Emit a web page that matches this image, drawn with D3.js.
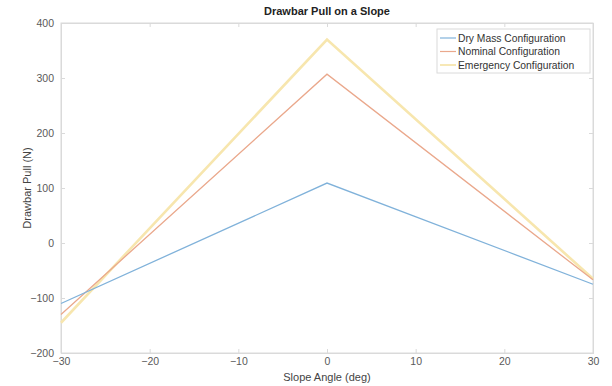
<!DOCTYPE html>
<html><head><meta charset="utf-8">
<script src="https://cdn.jsdelivr.net/npm/d3@7"></script>
<style>body{margin:0;background:#fff;}svg{display:block;font-family:"Liberation Sans",Arial,sans-serif;}</style>
</head><body>
<script>
const angles = [-30, 0, 30];
const seriesNames = ["Dry Mass Configuration", "Nominal Configuration", "Emergency Configuration"];
const dryMass = [-110, 109, -75];
const nominal = [-130, 307, -67];
const emergency = [-145, 370, -65];
const xTicks = [-30, -20, -10, 0, 10, 20, 30];
const yTicks = [-200, -100, 0, 100, 200, 300, 400];
const colors = ["#80b2da", "#eaa88c", "#f7e6ae"];
const widths = [1.3, 1.3, 2.6];

const W = 612, H = 386;
const m = {l: 61, r: 19, t: 23, b: 33};
const svg = d3.select("body").append("svg").attr("width", W).attr("height", H);
const x = d3.scaleLinear().domain([-30, 30]).range([m.l, W - m.r]);
const y = d3.scaleLinear().domain([-200, 400]).range([H - m.b, m.t]);

svg.append("rect").attr("x", x(-30)).attr("y", y(400)).attr("width", x(30) - x(-30)).attr("height", y(-200) - y(400))
  .attr("fill", "#fff").attr("stroke", "#dadada").attr("stroke-width", 1);

const xa = svg.append("g").attr("transform", `translate(0,${y(-200)})`)
  .call(d3.axisBottom(x).tickValues(xTicks).tickSize(-4).tickPadding(5).tickFormat(d3.format("d")));
const xa2 = svg.append("g").attr("transform", `translate(0,${y(400)})`)
  .call(d3.axisTop(x).tickValues(xTicks).tickSize(-4).tickFormat(""));
const ya = svg.append("g").attr("transform", `translate(${x(-30)},0)`)
  .call(d3.axisLeft(y).tickValues(yTicks).tickSize(-4).tickPadding(7).tickFormat(d3.format("d")));
const ya2 = svg.append("g").attr("transform", `translate(${x(30)},0)`)
  .call(d3.axisRight(y).tickValues(yTicks).tickSize(-4).tickFormat(""));
[xa, xa2, ya, ya2].forEach(g => {
  g.select(".domain").attr("stroke", "#dadada");
  g.selectAll(".tick line").attr("stroke", "#dadada");
  g.selectAll("text").attr("fill", "#5a5a5a").attr("font-size", 10.5).attr("font-family", "Liberation Sans, Arial, sans-serif");
});

const data = [dryMass, nominal, emergency];
const line = d3.line().x((d, i) => x(angles[i])).y(d => y(d));
[2, 1, 0].forEach(k => {
  svg.append("path").datum(data[k]).attr("d", line).attr("fill", "none")
    .attr("stroke", colors[k]).attr("stroke-width", widths[k]).attr("stroke-linejoin", "miter");
});

svg.append("text").attr("x", (x(-30) + x(30)) / 2).attr("y", 15).attr("text-anchor", "middle")
  .attr("font-size", 11).attr("font-weight", "bold").attr("fill", "#222").text("Drawbar Pull on a Slope");
svg.append("text").attr("x", (x(-30) + x(30)) / 2).attr("y", 381).attr("text-anchor", "middle")
  .attr("font-size", 11).attr("fill", "#444").text("Slope Angle (deg)");
svg.append("text").attr("transform", `translate(31,${(y(400) + y(-200)) / 2}) rotate(-90)`).attr("text-anchor", "middle")
  .attr("font-size", 11).attr("fill", "#444").text("Drawbar Pull (N)");

const lx = 437, ly = 29, lw = 153, lh = 44;
svg.append("rect").attr("x", lx).attr("y", ly).attr("width", lw).attr("height", lh)
  .attr("fill", "#fff").attr("stroke", "#dadada");
seriesNames.forEach((n, i) => {
  const yy = ly + 9 + i * 13.5;
  svg.append("line").attr("x1", lx + 3).attr("x2", lx + 19).attr("y1", yy).attr("y2", yy)
    .attr("stroke", colors[i]).attr("stroke-width", i === 2 ? 1.8 : 1.2);
  svg.append("text").attr("x", lx + 21).attr("y", yy + 3.5).attr("font-size", 10.3).attr("fill", "#333").text(n);
});
</script>
</body></html>
